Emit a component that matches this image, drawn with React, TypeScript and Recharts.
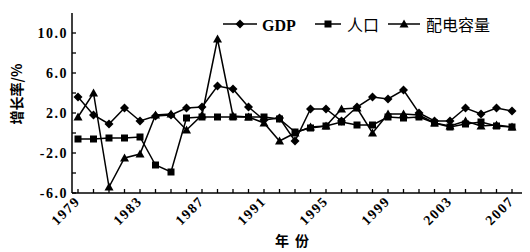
import React from 'react';
import { LineChart, Line, XAxis, YAxis } from 'recharts';

const years = ['1979','1980','1981','1982','1983','1984','1985','1986','1987','1988','1989','1990','1991','1992','1993','1994','1995','1996','1997','1998','1999','2000','2001','2002','2003','2004','2005','2006','2007'];
const gdp = [3.6,1.8,0.9,2.5,1.2,1.7,1.8,2.5,2.6,4.7,4.4,2.6,1.3,1.5,-0.8,2.4,2.4,1.2,2.6,3.6,3.4,4.3,2.0,1.2,1.2,2.5,1.9,2.5,2.2];
const population = [-0.6,-0.6,-0.5,-0.5,-0.4,-3.2,-3.9,1.5,1.6,1.6,1.6,1.6,1.6,1.4,0.1,0.5,0.7,1.1,0.8,0.8,1.6,1.5,1.6,1.0,0.6,0.9,1.1,0.7,0.6];
const capacity = [1.6,4.0,-5.4,-2.5,-2.1,1.8,1.9,0.3,1.8,9.4,1.7,1.6,1.0,-0.8,0.0,0.6,0.7,2.4,2.5,0.0,1.9,1.9,1.8,1.0,0.7,1.2,0.7,0.8,0.6];
const yTicks = [-6,-4,-2,0,2,4,6,8,10];
const yLabeled = [-6,-2,2,6,10];
const xLabeled = ['1979','1983','1987','1991','1995','1999','2003','2007'];
const seriesNames = ['GDP','人口','配电容量'];
const yTitle = '增长率/%';
const xTitle = '年份';

const data = years.map((y, i) => ({ year: y, gdp: gdp[i], pop: population[i], cap: capacity[i] }));

const SERIF = '"Liberation Serif", "Times New Roman", serif';
const CJK = '"Noto Sans CJK SC", sans-serif';

const diamond = (cx: number, cy: number, s = 4.5) => `${cx},${cy - s} ${cx + s},${cy} ${cx},${cy + s} ${cx - s},${cy}`;
const triangle = (cx: number, cy: number, s = 4.5) => `${cx},${cy - s} ${cx + s},${cy + s * 0.8} ${cx - s},${cy + s * 0.8}`;

const DiamondDot = (p: any) => (p.cx == null ? null : <polygon key={`d${p.index}`} points={diamond(p.cx, p.cy)} fill="#000" />);
const SquareDot = (p: any) => (p.cx == null ? null : <rect key={`s${p.index}`} x={p.cx - 3.5} y={p.cy - 3.5} width={7} height={7} fill="#000" />);
const TriangleDot = (p: any) => (p.cx == null ? null : <polygon key={`t${p.index}`} points={triangle(p.cx, p.cy)} fill="#000" />);

const XTick = (props: any) => {
  const { x, y, payload } = props;
  const show = xLabeled.includes(String(payload.value));
  const ax = x + 3;
  const ay = y + 9;
  return (
    <g>
      <line x1={x} y1={y} x2={x} y2={y - 4} stroke="#000" strokeWidth={1.3} />
      {show && (
        <text x={ax} y={ay} transform={`rotate(-45 ${ax} ${ay})`} textAnchor="end" fontFamily={SERIF} fontWeight="bold" fontSize={14} letterSpacing={1.5} fill="#000">
          {payload.value}
        </text>
      )}
    </g>
  );
};

const YTick = (props: any) => {
  const { x, y, payload } = props;
  const show = yLabeled.includes(payload.value);
  return (
    <g>
      <line x1={x} y1={y} x2={x + 4} y2={y} stroke="#000" strokeWidth={1.3} />
      {show && (
        <text x={x - 4} y={y + 5} textAnchor="end" fontFamily={SERIF} fontWeight="bold" fontSize={14} letterSpacing={1.5} fill="#000">
          {payload.value.toFixed(1)}
        </text>
      )}
    </g>
  );
};

export default function App() {
  return (
    <div style={{ position: 'absolute', left: 0, top: 0, width: 530, height: 252, background: '#fff' }}>
      <LineChart width={530} height={252} data={data} margin={{ top: 13, right: 8, bottom: 19, left: 22 }}>
        <XAxis
          dataKey="year"
          interval={0}
          tickSize={0}
          tickMargin={0}
          tickLine={false}
          tick={<XTick />}
          height={40}
          padding={{ left: 6, right: 10 }}
          axisLine={{ stroke: '#000', strokeWidth: 1.5 }}
        />
        <YAxis
          type="number"
          domain={[-6, 12]}
          ticks={yTicks}
          interval={0}
          width={50}
          tickSize={0}
          tickMargin={0}
          tickLine={false}
          tick={<YTick />}
          axisLine={{ stroke: '#000', strokeWidth: 1.5 }}
        />
        <Line dataKey="gdp" name={seriesNames[0]} stroke="#000" strokeWidth={1.5} dot={DiamondDot} activeDot={false} isAnimationActive={false} />
        <Line dataKey="pop" name={seriesNames[1]} stroke="#000" strokeWidth={1.5} dot={SquareDot} activeDot={false} isAnimationActive={false} />
        <Line dataKey="cap" name={seriesNames[2]} stroke="#000" strokeWidth={1.5} dot={TriangleDot} activeDot={false} isAnimationActive={false} />
      </LineChart>
      <svg width={530} height={252} style={{ position: 'absolute', left: 0, top: 0, pointerEvents: 'none' }}>
        <g transform="translate(210 8)">
          <line x1={13} y1={16} x2={47} y2={16} stroke="#000" strokeWidth={1.5} />
          <polygon points={diamond(30, 16)} fill="#000" />
          <text x={52} y={23} fontFamily={SERIF} fontWeight="bold" fontSize={16} fill="#000">{seriesNames[0]}</text>
          <line x1={105} y1={16} x2={131} y2={16} stroke="#000" strokeWidth={1.5} />
          <rect x={114.5} y={12.5} width={7} height={7} fill="#000" />
          <text x={137} y={23} fontFamily={CJK} fontSize={16} fill="#000">{seriesNames[1]}</text>
          <line x1={178} y1={16} x2={210} y2={16} stroke="#000" strokeWidth={1.5} />
          <polygon points={triangle(194, 16)} fill="#000" />
          <text x={216} y={23} fontFamily={CJK} fontSize={16} fill="#000">{seriesNames[2]}</text>
        </g>
        <text x={22} y={94} transform="rotate(-90 22 94)" textAnchor="middle" fontFamily={CJK} fontSize={14} fontWeight="bold" fill="#000">{yTitle}</text>
        <text x={295} y={246} textAnchor="middle" fontFamily={CJK} fontSize={14} fontWeight="bold" letterSpacing={6} fill="#000">{xTitle}</text>
      </svg>
    </div>
  );
}
